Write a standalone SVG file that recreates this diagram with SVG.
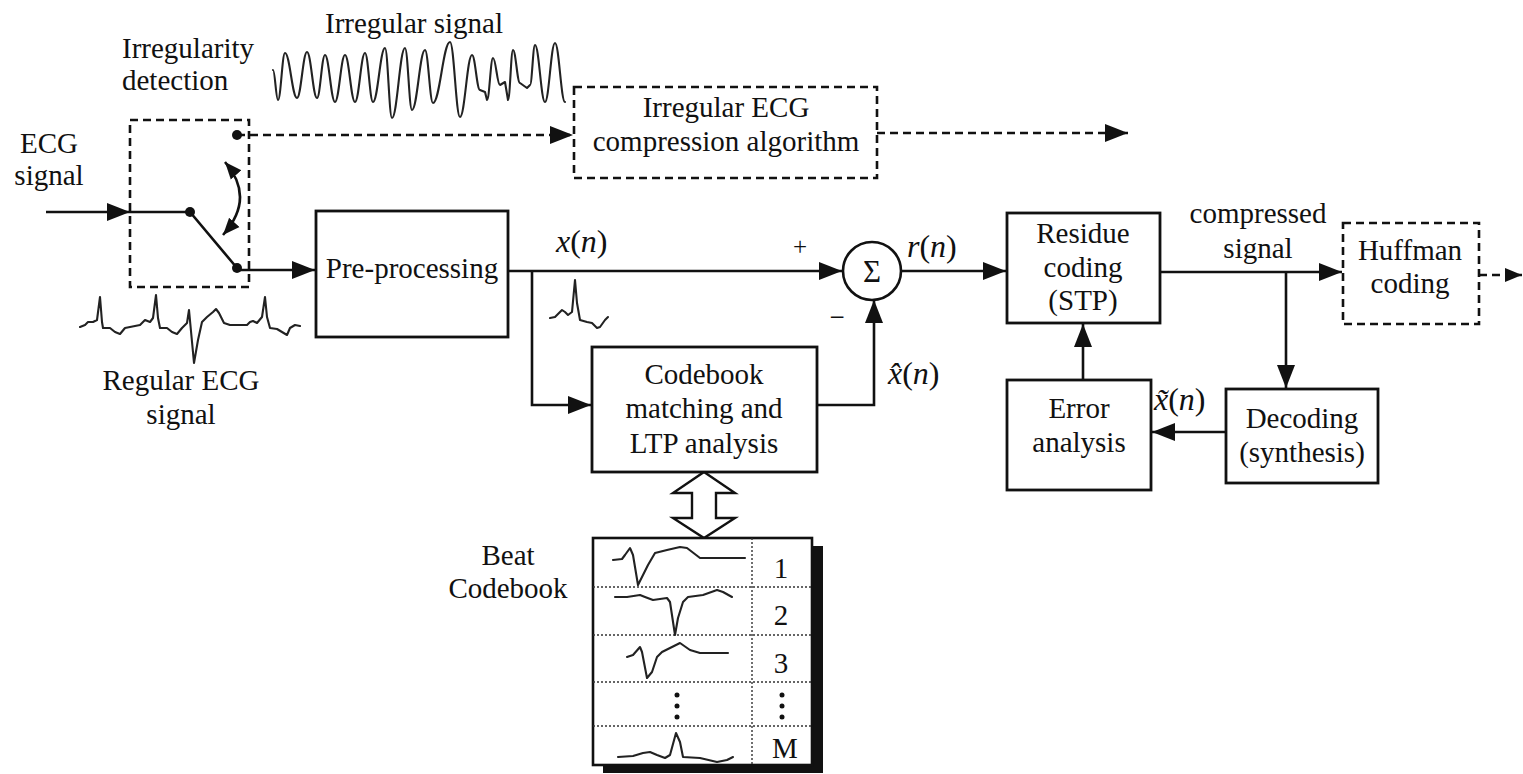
<svg xmlns="http://www.w3.org/2000/svg" width="1523" height="774" viewBox="0 0 1523 774">
<style>
text{font-family:'Liberation Serif','Times New Roman',Times,'DejaVu Serif',serif;font-size:29px;fill:#111}
.c{text-anchor:middle}
.box{fill:#fff;stroke:#111;stroke-width:2.8}
.dbox{fill:none;stroke:#111;stroke-width:2.6;stroke-dasharray:8,5}
.ln{fill:none;stroke:#111;stroke-width:2.6}
.dl{fill:none;stroke:#111;stroke-width:2.6;stroke-dasharray:8,5}
.wave{fill:none;stroke:#222;stroke-width:2.1;stroke-linejoin:round;stroke-linecap:round}
.dot{fill:none;stroke:#333;stroke-width:1.4;stroke-dasharray:2,2}
.it{font-style:italic}
.math{font-size:32px}
</style>
<defs>
<marker id="ah" markerWidth="24" markerHeight="20" refX="23" refY="10" orient="auto" markerUnits="userSpaceOnUse"><path d="M0,1 L23,10 L0,19 z" fill="#111"/></marker>
<marker id="ahs" markerWidth="18" markerHeight="16" refX="17" refY="8" orient="auto-start-reverse" markerUnits="userSpaceOnUse"><path d="M0,1 L17,8 L0,15 z" fill="#111"/></marker>
</defs>
<rect width="1523" height="774" fill="#fff"/>

<g id="connectors">
<line class="ln" x1="46" y1="212" x2="130" y2="212" marker-end="url(#ah)"/>
<polyline class="ln" points="130,212 190,212 237,268"/>
<line class="ln" x1="237" y1="270" x2="315" y2="270" marker-end="url(#ah)"/>
<line class="dl" x1="237" y1="135" x2="573" y2="135" marker-end="url(#ah)"/>
<path class="ln" d="M225,162 Q256,198 223,235" marker-start="url(#ahs)" marker-end="url(#ahs)"/>
<line class="dl" x1="877" y1="133" x2="1128" y2="133" marker-end="url(#ah)"/>
<line class="ln" x1="508" y1="271" x2="842" y2="271" marker-end="url(#ah)"/>
<polyline class="ln" points="532,271 532,405 591,405" marker-end="url(#ah)"/>
<polyline class="ln" points="817,405 874,405 874,300" marker-end="url(#ah)"/>
<line class="ln" x1="902" y1="271" x2="1006" y2="271" marker-end="url(#ah)"/>
<line class="ln" x1="1160" y1="272" x2="1342" y2="272" marker-end="url(#ah)"/>
<line class="ln" x1="1286" y1="272" x2="1286" y2="388" marker-end="url(#ah)"/>
<line class="ln" x1="1226" y1="432" x2="1152" y2="432" marker-end="url(#ah)"/>
<line class="ln" x1="1083" y1="380" x2="1083" y2="324" marker-end="url(#ah)"/>
<line class="dl" x1="1479" y1="275" x2="1522" y2="275" marker-end="url(#ahs)"/>
<path d="M704,472 L735,493 L716,493 L716,518 L735,518 L704,538 L673,518 L692,518 L692,493 L673,493 Z" fill="#fff" stroke="#111" stroke-width="2.4" stroke-linejoin="miter"/>
</g>

<g id="switch">
<rect class="dbox" x="130" y="120" width="119" height="167"/>
<circle cx="190" cy="212" r="5" fill="#111"/>
<circle cx="237" cy="268" r="5" fill="#111"/>
<circle cx="237" cy="135" r="5" fill="#111"/>
<text x="122" y="58">Irregularity</text>
<text x="122" y="90">detection</text>
</g>

<g id="ecg-input">
<text class="c" x="49" y="153">ECG</text>
<text class="c" x="49" y="185">signal</text>
</g>

<g id="irregular-signal">
<text class="c" x="414" y="33">Irregular signal</text>
<path class="wave" d="M273,70 C275,70 276,100 278,100 C280.8,100 282.2,53 285,53 C289.8,53 292.2,98 297,98 C301,98 303,52 307,52 C311,52 313,98 317,98 C320.2,98 321.8,55 325,55 C329,55 331,102 335,102 C339,102 341,55 345,55 C349,55 351,102 355,102 C359,102 361,53 365,53 C368.2,53 369.8,102 373,102 C377.8,102 380.2,48 385,48 C387.8,48 389.2,118 392,118 C397.2,118 399.8,48 405,48 C407.8,48 409.2,110 412,110 C417.2,110 419.8,50 425,50 C428.2,50 429.8,103 433,103 C439.8,103 443.2,42 450,42 C454,42 456,117 460,117 C464.8,117 467.2,55 472,55 C475.2,55 476.8,90 480,90 L485,92 L487,100 C489.4,100 490.6,58 493,58 C495.8,58 497.2,85 500,85 L505,82 L508,100 C510,100 511,50 513,50 C515.8,50 517.2,83 520,83 L527,88 L530,85 C532,85 533,45 535,45 C539,45 541,102 545,102 C549,102 551,43 555,43 C559,43 561,102 565,102"/>
</g>

<g id="regular-ecg">
<polyline class="wave" points="80,327 85,325 88,322 93,322 97,320 100,297 102,322 103,328 110,328 115,332 120,334 125,328 130,327 140,325 145,320 150,322 153,318 156,295 158,318 160,328 167,328 172,332 177,334 182,328 187,323 189,310 194,363 198,340 202,322 207,317 213,312 216,309 219,313 224,323 230,325 247,325 250,322 253,321 257,323 262,317 265,297 267,317 270,328 277,329 282,332 287,335 290,328 295,325 300,326"/>
<text class="c" x="181" y="390">Regular ECG</text>
<text class="c" x="181" y="424">signal</text>
</g>

<g id="irregular-compression">
<rect class="dbox" x="574" y="87" width="303" height="91"/>
<text class="c" x="726" y="117">Irregular ECG</text>
<text class="c" x="726" y="151">compression algorithm</text>
</g>

<g id="preprocessing">
<rect class="box" x="316" y="211" width="192" height="126"/>
<text class="c" x="412" y="278">Pre-processing</text>
</g>

<g id="xn-label">
<text class="math" x="556" y="252"><tspan class="it">x</tspan>(<tspan class="it">n</tspan>)</text>
<polyline class="wave" points="550,318 555,317 562,310 565,312 568,315 572,312 575,280 577,303 580,320 587,322 592,323 597,328 600,327 605,320 608,317"/>
</g>

<g id="sum">
<circle cx="872" cy="271" r="29" fill="#fff" stroke="#111" stroke-width="2.6"/>
<text class="c" x="872" y="282" style="font-size:31px">Σ</text>
<text class="c" x="800" y="255" style="font-size:25px">+</text>
<text class="c" x="837" y="326" style="font-size:27px">−</text>
</g>

<g id="rn-label">
<text class="math" x="907" y="257"><tspan class="it">r</tspan>(<tspan class="it">n</tspan>)</text>
</g>

<g id="codebook-matching">
<rect class="box" x="592" y="347" width="225" height="125"/>
<text class="c" x="704" y="384">Codebook</text>
<text class="c" x="704" y="418">matching and</text>
<text class="c" x="704" y="453">LTP analysis</text>
</g>

<g id="xhat-label">
<text class="math" x="888" y="384"><tspan class="it">x̂</tspan>(<tspan class="it">n</tspan>)</text>
</g>

<g id="beat-codebook">
<text class="c" x="508" y="565">Beat</text>
<text class="c" x="508" y="598">Codebook</text>
<rect x="603" y="546" width="220" height="227" fill="#111"/>
<rect x="593" y="538" width="219" height="227" fill="#fff" stroke="#111" stroke-width="2.6"/>
<line class="dot" x1="593" y1="587" x2="812" y2="587"/>
<line class="dot" x1="593" y1="635" x2="812" y2="635"/>
<line class="dot" x1="593" y1="682" x2="812" y2="682"/>
<line class="dot" x1="593" y1="726" x2="812" y2="726"/>
<line class="dot" x1="752" y1="538" x2="752" y2="765"/>
<polyline class="wave" points="613,560 622,559 625,555 630,548 633,555 638,585 643,575 648,565 655,553 667,550 680,547 687,548 700,558 723,558 745,558"/>
<polyline class="wave" points="615,597 627,597 640,595 645,597 653,600 667,598 670,602 675,635 678,618 683,602 688,597 703,595 717,590 723,592 732,597"/>
<polyline class="wave" points="627,657 633,655 640,647 642,652 647,678 652,672 657,657 662,652 670,648 680,643 690,650 700,653 728,653"/>
<polyline class="wave" points="618,757 633,756 643,753 650,752 657,755 665,758 670,755 676,733 680,742 683,757 700,758 717,762 727,760 733,757"/>
<circle cx="677" cy="695" r="2.5" fill="#111"/>
<circle cx="677" cy="706" r="2.5" fill="#111"/>
<circle cx="677" cy="717" r="2.5" fill="#111"/>
<circle cx="782" cy="695" r="2.5" fill="#111"/>
<circle cx="782" cy="706" r="2.5" fill="#111"/>
<circle cx="782" cy="717" r="2.5" fill="#111"/>
<text class="c" x="781" y="578">1</text>
<text class="c" x="781" y="625">2</text>
<text class="c" x="781" y="673">3</text>
<text class="c" x="785" y="758">M</text>
</g>

<g id="residue-coding">
<rect class="box" x="1007" y="213" width="153" height="110"/>
<text class="c" x="1083" y="243">Residue</text>
<text class="c" x="1083" y="277">coding</text>
<text class="c" x="1083" y="310">(STP)</text>
</g>

<g id="compressed-label">
<text class="c" x="1258" y="223">compressed</text>
<text class="c" x="1258" y="258">signal</text>
</g>

<g id="huffman">
<rect class="dbox" x="1343" y="223" width="136" height="101"/>
<text class="c" x="1410" y="260">Huffman</text>
<text class="c" x="1410" y="293">coding</text>
</g>

<g id="error-analysis">
<rect class="box" x="1007" y="380" width="144" height="110"/>
<text class="c" x="1079" y="418">Error</text>
<text class="c" x="1079" y="452">analysis</text>
</g>

<g id="xtilde-label">
<text class="math" x="1154" y="410"><tspan class="it">x̃</tspan>(<tspan class="it">n</tspan>)</text>
</g>

<g id="decoding">
<rect class="box" x="1226" y="389" width="152" height="94"/>
<text class="c" x="1302" y="428">Decoding</text>
<text class="c" x="1302" y="462">(synthesis)</text>
</g>
</svg>
